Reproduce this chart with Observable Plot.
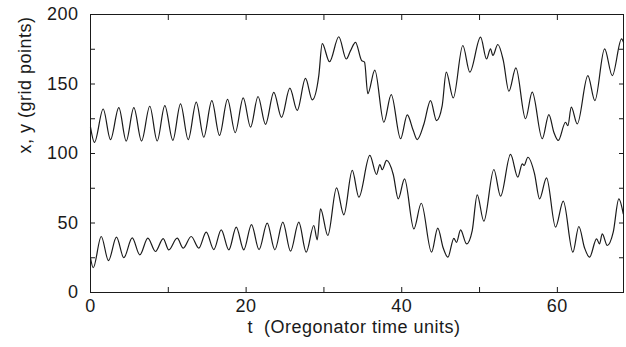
<!DOCTYPE html>
<html>
<head>
<meta charset="utf-8">
<script src="https://cdn.jsdelivr.net/npm/d3@7"></script>
<script src="https://cdn.jsdelivr.net/npm/@observablehq/plot@0.6"></script>
<style>
  body { margin: 0; background: #fff; }
  svg { display: block; }
  svg text { letter-spacing: 0.5px; }
</style>
</head>
<body>
<div id="chart"></div>
<script>
// Upper series (x), extrema and shoulders
const tTop = [0, 0.51, 1.63, 2.57, 3.64, 4.59, 5.57, 6.56, 7.62, 8.57, 9.55, 10.58, 11.57, 12.56, 13.59, 14.56, 15.59, 16.58, 17.61, 18.6, 19.63, 20.57, 21.53, 22.49, 23.56, 24.55, 25.62, 26.57, 27.63, 28.5, 29.34, 29.78, 30.72, 31.91, 32.87, 33.42, 34.06, 34.83, 35.22, 35.64, 36.54, 37.7, 38.65, 39.85, 40.71, 41.48, 41.99, 42.84, 43.7, 44.47, 45.2, 45.72, 46.62, 47.85, 48.75, 50.13, 50.9, 51.41, 51.71, 52.35, 53.05, 53.77, 54.67, 55.91, 56.77, 58.06, 58.91, 59.55, 60.12, 61.05, 61.35, 61.79, 62.56, 63.92, 64.82, 66.07, 67.06, 68.25, 68.5];
const vTop = [119, 108, 132, 110, 133, 109, 133, 109, 134, 109, 134.5, 109.5, 135.7, 110, 137, 111.7, 138, 113, 139, 115, 140, 119, 141, 121, 144, 126, 147, 131, 154, 138.6, 156, 179, 166, 184, 168, 174, 180, 167, 165.7, 143, 160, 122.5, 142.4, 110.6, 127.8, 116.5, 110, 121, 138, 123.7, 134.5, 158.5, 140, 177.7, 158.5, 183.7, 168, 175.3, 170.5, 178.4, 167, 144.8, 161.6, 125, 144.1, 110.6, 128, 115.3, 109.4, 122.5, 120, 133.3, 121.3, 156, 138, 175.3, 156, 182.5, 180];

// Lower series (y)
const tBot = [0, 0.35, 1.38, 2.31, 3.34, 4.28, 5.36, 6.34, 7.37, 8.35, 9.34, 10.06, 11.14, 11.92, 12.94, 13.92, 14.87, 15.85, 16.8, 17.78, 18.73, 19.7, 20.69, 21.66, 22.71, 23.69, 24.72, 25.71, 26.77, 27.72, 28.7, 29.14, 29.56, 30.5, 31.62, 32.56, 33.64, 34.49, 35.9, 36.76, 37.19, 37.49, 38.05, 38.91, 39.55, 40.36, 41.56, 42.51, 43.83, 44.63, 45.33, 45.93, 46.7, 47.04, 47.56, 48.33, 49.06, 49.7, 50.55, 51.84, 52.7, 53.98, 54.92, 55.49, 55.72, 56.21, 57.07, 57.71, 58.61, 59.77, 60.76, 61.99, 62.76, 63.5, 64.14, 65.04, 65.42, 65.77, 66.41, 67.18, 67.9, 68.47];
const vBot = [25, 17.8, 40.3, 23, 39.8, 25, 39.3, 27.1, 39.1, 29.5, 38.8, 30.7, 39.1, 31.9, 40.3, 31.9, 43.4, 30.9, 45.1, 30.7, 47, 30.7, 48.9, 30.9, 49.9, 30.7, 50.6, 29.7, 50.6, 29, 48.2, 37.9, 60.2, 41, 75.3, 55.9, 87.8, 68.6, 98.6, 84.9, 92.1, 88.3, 95, 84.9, 67.4, 81.8, 45.8, 64.2, 29, 46.3, 32, 25.4, 39, 36, 45, 35, 44.6, 70.3, 51.3, 88.5, 69.3, 99.3, 83, 92.6, 91.4, 97.3, 85.4, 67.4, 82.5, 47, 65.7, 29, 47.5, 32, 25.4, 38.6, 35, 42.2, 33.8, 43.4, 67.4, 56.6];

const xLabelTicks = [0, 20, 40, 60];
const xMinorTicks = [10, 20, 30, 40, 50, 60];
const yLabelTicks = [0, 50, 100, 150, 200];
const yMinorTicks = [25, 50, 75, 100, 125, 150, 175];
const xTitle = "t  (Oregonator time units)";
const yTitle = "x, y (grid points)";

const upperData = tTop.map((t, i) => ({t, v: vTop[i]}));
const lowerData = tBot.map((t, i) => ({t, v: vBot[i]}));

const ink = "#1a1a1a";

const chart = Plot.plot({
  width: 626,
  height: 347,
  marginLeft: 90,
  marginRight: 3,
  marginTop: 14,
  marginBottom: 55,
  style: {fontFamily: "'Liberation Sans', Arial, Helvetica, sans-serif", fontSize: "18px", color: ink, background: "#fff"},
  x: {domain: [0, 68.5]},
  y: {domain: [0, 200]},
  marks: [
    Plot.axisX(xLabelTicks, {anchor: "bottom", tickSize: 0, tickPadding: 7, label: null, fontSize: 18}),
    Plot.axisX(xMinorTicks, {anchor: "bottom", tickSize: -5, tickFormat: () => "", label: null, stroke: ink}),
    Plot.axisX(xMinorTicks, {anchor: "top", tickSize: -5, tickFormat: () => "", label: null, stroke: ink}),
    Plot.axisY(yLabelTicks, {anchor: "left", tickSize: 0, tickPadding: 12, label: null, fontSize: 18}),
    Plot.axisY(yMinorTicks, {anchor: "left", tickSize: -5, tickFormat: () => "", label: null, stroke: ink}),
    Plot.axisY(yMinorTicks, {anchor: "right", tickSize: -5, tickFormat: () => "", label: null, stroke: ink}),
    Plot.frame({stroke: ink, strokeWidth: 1}),
    Plot.line(upperData, {x: "t", y: "v", curve: "monotone-x", stroke: ink, strokeWidth: 1.2}),
    Plot.line(lowerData, {x: "t", y: "v", curve: "monotone-x", stroke: ink, strokeWidth: 1.2}),
    Plot.text([xTitle], {frameAnchor: "bottom", lineAnchor: "middle", dy: 35, dx: -3, fontSize: 18, fill: ink}),
    Plot.text([yTitle], {frameAnchor: "left", lineAnchor: "middle", rotate: -90, dx: -65, fontSize: 18, fill: ink})
  ]
});
document.getElementById("chart").append(chart);
</script>
</body>
</html>
